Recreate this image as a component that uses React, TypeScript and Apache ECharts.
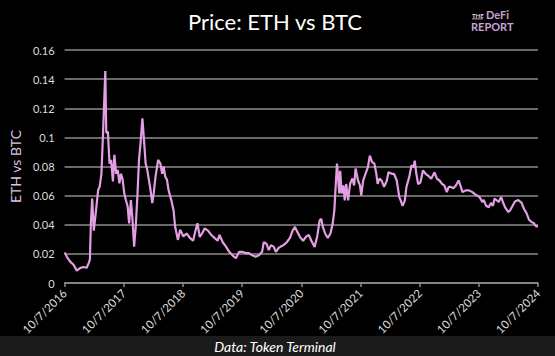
import React, { useEffect, useRef } from "react";
import * as echarts from "echarts";

const dates = [
  "2016-10-07", "2016-10-21", "2016-11-10", "2016-12-01", "2016-12-21", "2017-01-10", "2017-01-30", "2017-02-20",
  "2017-03-05", "2017-03-12", "2017-03-18", "2017-03-26", "2017-04-05", "2017-04-17", "2017-05-02", "2017-05-11",
  "2017-05-22", "2017-06-01", "2017-06-15", "2017-06-21", "2017-07-01", "2017-07-11", "2017-07-21", "2017-08-01",
  "2017-08-10", "2017-08-21", "2017-08-31", "2017-09-10", "2017-09-20", "2017-09-30", "2017-10-10", "2017-10-20",
  "2017-10-31", "2017-11-09", "2017-11-20", "2017-11-30", "2017-12-10", "2017-12-20", "2017-12-31", "2018-01-09",
  "2018-01-20", "2018-01-30", "2018-02-09", "2018-02-19", "2018-03-01", "2018-03-21", "2018-04-01", "2018-04-10",
  "2018-04-21", "2018-05-07", "2018-05-21", "2018-06-01", "2018-06-10", "2018-06-20", "2018-07-01", "2018-07-10",
  "2018-07-27", "2018-08-10", "2018-08-20", "2018-09-06", "2018-09-20", "2018-10-10", "2018-10-30", "2018-11-19",
  "2018-12-09", "2018-12-24", "2019-01-05", "2019-01-19", "2019-02-02", "2019-02-19", "2019-03-11", "2019-03-31",
  "2019-04-20", "2019-05-10", "2019-05-21", "2019-06-10", "2019-06-30", "2019-07-20", "2019-08-09", "2019-08-30",
  "2019-09-19", "2019-10-09", "2019-10-30", "2019-11-19", "2019-12-09", "2019-12-30", "2020-01-19", "2020-02-08",
  "2020-02-18", "2020-03-06", "2020-03-20", "2020-04-03", "2020-04-19", "2020-05-03", "2020-05-19", "2020-06-02",
  "2020-06-19", "2020-07-09", "2020-07-29", "2020-08-14", "2020-08-29", "2020-09-08", "2020-09-28", "2020-10-18",
  "2020-11-07", "2020-11-22", "2020-12-08", "2020-12-28", "2021-01-13", "2021-01-28", "2021-02-07", "2021-02-17",
  "2021-03-03", "2021-03-19", "2021-04-05", "2021-04-19", "2021-04-29", "2021-05-09", "2021-05-15", "2021-05-19",
  "2021-05-29", "2021-06-04", "2021-06-13", "2021-06-24", "2021-07-02", "2021-07-11", "2021-07-23", "2021-08-04",
  "2021-08-18", "2021-08-29", "2021-09-07", "2021-09-22", "2021-10-04", "2021-10-12", "2021-10-24", "2021-11-07",
  "2021-11-22", "2021-12-04", "2021-12-18", "2022-01-01", "2022-01-13", "2022-01-21", "2022-02-02", "2022-02-16",
  "2022-03-02", "2022-03-19", "2022-03-29", "2022-04-18", "2022-05-02", "2022-05-19", "2022-06-04", "2022-06-12",
  "2022-06-24", "2022-07-08", "2022-07-18", "2022-08-04", "2022-08-18", "2022-09-01", "2022-09-07", "2022-09-17",
  "2022-09-28", "2022-10-12", "2022-10-28", "2022-11-13", "2022-11-28", "2022-12-18", "2023-01-07", "2023-01-22",
  "2023-02-07", "2023-02-23", "2023-03-09", "2023-03-24", "2023-04-05", "2023-04-19", "2023-05-03", "2023-05-19",
  "2023-06-05", "2023-06-19", "2023-06-29", "2023-07-19", "2023-08-08", "2023-08-29", "2023-09-14", "2023-09-28",
  "2023-10-12", "2023-10-29", "2023-11-07", "2023-11-22", "2023-12-08", "2023-12-22", "2024-01-03", "2024-01-13",
  "2024-01-24", "2024-02-07", "2024-02-23", "2024-03-04", "2024-03-18", "2024-04-07", "2024-04-18", "2024-05-18",
  "2024-06-07", "2024-06-28", "2024-07-12", "2024-07-28", "2024-08-13", "2024-08-27", "2024-09-12", "2024-09-27",
  "2024-10-07",
];

const ethBtc = [
  0.021, 0.018, 0.0147, 0.0125, 0.0085, 0.0102, 0.011, 0.0105,
  0.0138, 0.016, 0.041, 0.058, 0.036, 0.048, 0.064, 0.066,
  0.075, 0.1025, 0.1456, 0.103, 0.104, 0.082, 0.0845, 0.0697,
  0.088, 0.075, 0.0777, 0.0685, 0.075, 0.071, 0.0617, 0.057,
  0.0525, 0.041, 0.057, 0.0434, 0.025, 0.0388, 0.0617, 0.0845,
  0.098, 0.113, 0.098, 0.082, 0.0777, 0.064, 0.0548, 0.0617,
  0.073, 0.0845, 0.082, 0.075, 0.08, 0.073, 0.0708, 0.064,
  0.057, 0.0502, 0.0388, 0.0296, 0.0365, 0.032, 0.034, 0.031,
  0.029, 0.036, 0.041, 0.0316, 0.034, 0.0375, 0.036, 0.033,
  0.031, 0.029, 0.033, 0.028, 0.025, 0.0214, 0.019, 0.017,
  0.0214, 0.0214, 0.0205, 0.0205, 0.019, 0.018, 0.019, 0.0214,
  0.028, 0.027, 0.0226, 0.026, 0.025, 0.0214, 0.024, 0.025,
  0.026, 0.028, 0.031, 0.036, 0.0385, 0.036, 0.0317, 0.029,
  0.032, 0.033, 0.029, 0.0248, 0.032, 0.043, 0.044, 0.0385,
  0.034, 0.031, 0.034, 0.041, 0.05, 0.0704, 0.082, 0.077,
  0.0615, 0.077, 0.0615, 0.067, 0.0567, 0.068, 0.0567, 0.068,
  0.0718, 0.067, 0.0786, 0.0704, 0.067, 0.06, 0.0704, 0.075,
  0.0795, 0.0875, 0.083, 0.082, 0.075, 0.068, 0.0718, 0.07,
  0.066, 0.0704, 0.076, 0.075, 0.075, 0.0704, 0.059, 0.0567,
  0.053, 0.0567, 0.066, 0.0727, 0.0807, 0.0795, 0.084, 0.075,
  0.068, 0.069, 0.0773, 0.075, 0.0738, 0.0716, 0.076, 0.0716,
  0.0704, 0.068, 0.067, 0.0624, 0.066, 0.066, 0.065, 0.067,
  0.0704, 0.066, 0.0624, 0.0636, 0.0636, 0.0624, 0.061, 0.06,
  0.059, 0.0556, 0.057, 0.053, 0.052, 0.055, 0.053, 0.058,
  0.057, 0.0556, 0.059, 0.0556, 0.052, 0.0487, 0.05, 0.056,
  0.057, 0.055, 0.051, 0.048, 0.0434, 0.042, 0.041, 0.0388,
  0.039,
];

const tickYears = [2016, 2017, 2018, 2019, 2020, 2021, 2022, 2023, 2024];

const START = Date.UTC(2016, 9, 7);
const YEAR_MS = 365.25 * 86400000;
function yearsSinceStart(d: string): number {
  const [y, m, dd] = d.split("-").map(Number);
  return (Date.UTC(y, m - 1, dd) - START) / YEAR_MS;
}

const FONT = "Lato, 'Open Sans', sans-serif";

export default function App() {
  const ref = useRef<HTMLDivElement>(null);
  useEffect(() => {
    if (!ref.current) return;
    const chart = echarts.init(ref.current, null, { renderer: "svg" });
    const seriesData = dates.map((d, i) => [yearsSinceStart(d), ethBtc[i]]);
    chart.setOption({
      animation: false,
      backgroundColor: "#000000",
      grid: { left: 58, right: 17, top: 50, bottom: 73, containLabel: false },
      xAxis: {
        type: "value",
        min: 0,
        max: tickYears.length - 1,
        interval: 1,
        axisLine: { show: true, lineStyle: { color: "#8c8c8c", width: 1.5 } },
        axisTick: { show: true, length: 4, lineStyle: { color: "#8c8c8c", width: 1.5 } },
        splitLine: { show: false },
        axisLabel: {
          rotate: 45,
          margin: 8,
          color: "#dcdcdc",
          fontSize: 11.5,
          fontFamily: FONT,
          formatter: (v: number) => {
            const y = tickYears[Math.round(v)];
            return y !== undefined ? `10/7/${y}` : "";
          },
        },
      },
      yAxis: {
        type: "value",
        min: 0,
        max: 0.16,
        interval: 0.02,
        name: "ETH vs BTC",
        nameLocation: "middle",
        nameGap: 42,
        nameTextStyle: { color: "#dcc4e0", fontSize: 14, fontFamily: FONT },
        axisLine: { show: false },
        axisTick: { show: false },
        splitLine: { show: true, lineStyle: { color: "#8c8c8c", width: 1.5 } },
        axisLabel: {
          margin: 10,
          color: "#dcdcdc",
          fontSize: 11,
          fontFamily: FONT,
          formatter: (v: number) => String(Math.round(v * 100) / 100),
        },
      },
      series: [
        {
          type: "line",
          data: seriesData,
          showSymbol: false,
          symbol: "none",
          lineStyle: { color: "#e49ee4", width: 2.2 },
          z: 3,
        },
      ],
      graphic: [
        {
          type: "text",
          x: 275,
          y: 21,
          style: {
            text: "Price: ETH vs BTC",
            fill: "#ffffff",
            fontSize: 22,
            fontFamily: FONT,
            align: "center",
            verticalAlign: "middle",
          },
        },
        {
          type: "text",
          x: 472,
          y: 15,
          style: { text: "THE", fill: "#e6d6ec", fontSize: 6, lineHeight: 6, fontWeight: "bold", fontFamily: FONT, verticalAlign: "middle" },
        },
        {
          type: "rect",
          shape: { x: 472, y: 18.5, width: 11, height: 0.8 },
          style: { fill: "#e6d6ec" },
        },
        {
          type: "text",
          x: 486,
          y: 14.5,
          style: { text: "DeFi", fill: "#c9a3d6", fontSize: 11, lineHeight: 10, fontWeight: "bold", fontFamily: FONT, verticalAlign: "middle" },
        },
        {
          type: "text",
          x: 471,
          y: 26.5,
          style: { text: "REPORT", fill: "#c9a3d6", fontSize: 11, lineHeight: 10, fontWeight: "bold", fontFamily: FONT, verticalAlign: "middle" },
        },
        {
          type: "rect",
          shape: { x: 0, y: 336, width: 555, height: 20 },
          style: { fill: "#1b1b1b" },
        },
        {
          type: "text",
          x: 275,
          y: 346,
          style: {
            text: "Data: Token Terminal",
            fill: "#ffffff",
            fontSize: 14,
            fontStyle: "italic",
            fontFamily: FONT,
            align: "center",
            verticalAlign: "middle",
          },
        },
      ],
    });
    return () => chart.dispose();
  }, []);
  return <div ref={ref} style={{ width: 555, height: 356, position: "absolute", left: 0, top: 0 }} />;
}
